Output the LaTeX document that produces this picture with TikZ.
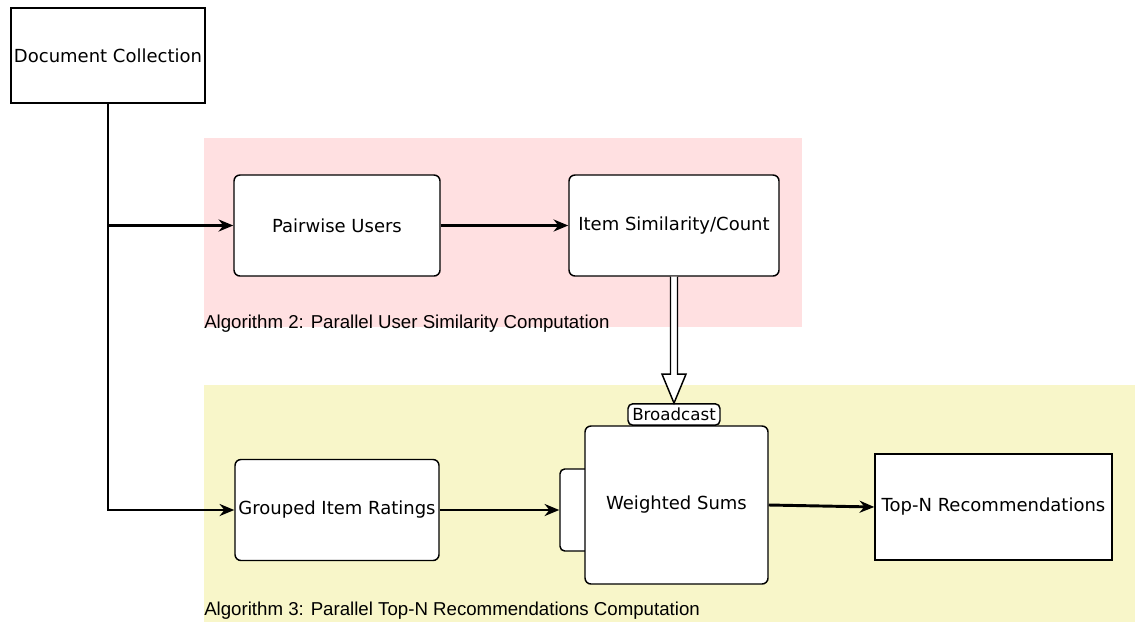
\documentclass[tikz,border=0pt]{standalone}
\usepackage{fontspec}
\setmainfont{DejaVu Sans}
\newfontfamily\algfont{Liberation Sans}
\usetikzlibrary{arrows.meta,positioning,calc}
\definecolor{algpink}{HTML}{FFE0E1}
\definecolor{algyellow}{HTML}{F8F6C9}

\begin{document}
\begin{tikzpicture}[
  x=0.75pt,y=-0.75pt,
  box/.style={draw,line width=1.1pt,align=center,inner sep=2pt,font=\fontsize{13.5}{16}\selectfont},
  rbox/.style={box,rounded corners=4.5pt},
  tabbox/.style={draw,line width=1.1pt,fill=white,rounded corners=3.5pt,inner sep=0pt},
  arr/.style={-{Stealth[length=11pt,width=9pt]},line width=2.2pt},
  alglabel/.style={anchor=base west,inner sep=0pt,font=\algfont\fontsize{14}{16}\selectfont}
]
\useasboundingbox (0,0) rectangle (1135,622);
% shaded algorithm areas
\fill[algpink] (204,138) rectangle (802,327);
\fill[algyellow] (204,385) rectangle (1135,622);
\node[alglabel] (alg2) at (204,328) {Algorithm 2: Parallel User Similarity Computation};
\node[alglabel] (alg3) at (204,615) {Algorithm 3: Parallel Top-N Recommendations Computation};

\node[box,minimum width=145.5pt,minimum height=71.25pt,fill=white] (doc) at (108,55.5) {Document Collection};
\node[rbox,minimum width=154.5pt,minimum height=75.75pt,fill=white] (pw) at (337,225.5) {Pairwise Users};
\node[rbox,minimum width=157.5pt,minimum height=75.75pt,fill=white] (sim) at (674,225.5) {Item Similarity/Count};
\node[rbox,minimum width=153pt,minimum height=75.75pt,fill=white] (grp) at (337,510) {Grouped Item Ratings};

% tabs sit behind the weighted sums box
\node[tabbox,minimum width=30pt,minimum height=61.5pt] (tab) at (580,510) {};
\node[tabbox,minimum width=69pt,minimum height=16pt,font=\fontsize{12.5}{14}\selectfont] (bc) at (674,414.5) {Broadcast};
\node[rbox,minimum width=137.25pt,minimum height=118.5pt,fill=white] (ws) at (676.5,505) {Weighted Sums};
\node[box,minimum width=177.75pt,minimum height=79.5pt,fill=white] (topn) at (993.5,507) {Top-N Recommendations};

\draw[arr] (doc.south) |- (grp.west);
\draw[arr] (doc.south |- pw.west) -- (pw.west);
\draw[arr] (pw.east) -- (sim.west);
\draw[arr] (grp.east) -- (tab.west);
\draw[arr] (ws.east) -- (topn.west);

% hollow broadcast arrow
\draw[line width=1.1pt,fill=white,line join=miter]
  ($(sim.south)+(-3.5,0)$) -- ($(bc.north)+(-3.5,-29)$) -- ($(bc.north)+(-12,-29)$)
  -- (bc.north) -- ($(bc.north)+(12,-29)$) -- ($(bc.north)+(3.5,-29)$)
  -- ($(sim.south)+(3.5,0)$);
\end{tikzpicture}
\end{document}
